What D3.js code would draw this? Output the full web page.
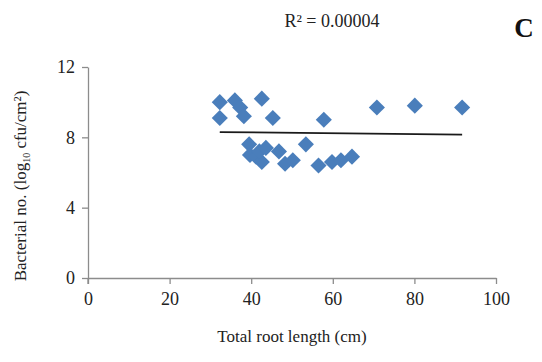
<!DOCTYPE html>
<html>
<head>
<meta charset="utf-8">
<script src="https://cdn.jsdelivr.net/npm/d3@7"></script>
<style>
  body { margin: 0; background: #fff; }
  svg text { font-family: "Liberation Serif", "DejaVu Serif", serif; fill: #222; }
</style>
</head>
<body>
<div id="chart-area"></div>
<script>
// values
var rootLength = [32.3, 32.3, 36.0, 37.3, 38.2, 42.6, 45.3,
                  39.5, 39.7, 41.2, 42.6, 42.0, 43.6, 46.8, 48.3, 50.2,
                  53.4, 57.8, 56.5, 59.8, 62.0, 64.7, 70.8, 80.1, 91.7];
var bacteria   = [10.0, 9.1, 10.1, 9.7, 9.2, 10.2, 9.1,
                  7.6, 7.0, 6.9, 6.6, 7.2, 7.4, 7.2, 6.5, 6.7,
                  7.6, 9.0, 6.4, 6.6, 6.7, 6.9, 9.7, 9.8, 9.7];
var trendX = [32.3, 91.7];
var trendY = [8.3, 8.15];
var xTicks = [0, 20, 40, 60, 80, 100];
var yTicks = [0, 4, 8, 12];

var width = 542, height = 362;
var margin = {top: 67, right: 46, bottom: 84, left: 88};
var plotW = width - margin.left - margin.right;
var plotH = height - margin.top - margin.bottom;

var svg = d3.select("#chart-area").append("svg")
    .attr("width", width).attr("height", height);

var g = svg.append("g").attr("transform", "translate(" + margin.left + "," + margin.top + ")");

var x = d3.scaleLinear().domain([0, 100]).range([0, plotW]);
var y = d3.scaleLinear().domain([0, 12]).range([plotH, 0]);

var xAxis = d3.axisBottom(x).tickValues(xTicks).tickSize(6).tickSizeOuter(0);
var gx = g.append("g").attr("transform", "translate(0," + plotH + ")").call(xAxis);
gx.selectAll("text").attr("y", 14).style("font-size", "18px");

var yAxis = d3.axisLeft(y).tickValues(yTicks).tickSize(6).tickSizeOuter(0);
var gy = g.append("g").call(yAxis);
gy.selectAll("text").attr("x", -13).style("font-size", "18px");

svg.selectAll("g").attr("font-family", null);
svg.selectAll(".domain, .tick line").attr("stroke", "#8c8c8c").attr("stroke-width", 1.3);
svg.selectAll(".tick text").attr("fill", "#222");

// small tick crossing at origin
g.append("line").attr("x1", 0).attr("x2", 0).attr("y1", plotH).attr("y2", plotH + 6)
    .attr("stroke", "#8c8c8c").attr("stroke-width", 1.3);

var pts = rootLength.map(function(d, i) { return {x: d, y: bacteria[i]}; });
g.selectAll("path.pt").data(pts).enter().append("path")
    .attr("class", "pt")
    .attr("d", d3.symbol().type(d3.symbolSquare).size(130))
    .attr("transform", function(d) { return "translate(" + x(d.x) + "," + y(d.y) + ") rotate(45)"; })
    .attr("fill", "#4a7ebb");

g.append("line")
    .attr("x1", x(trendX[0])).attr("y1", y(trendY[0]))
    .attr("x2", x(trendX[1])).attr("y2", y(trendY[1]))
    .attr("stroke", "#1a1a1a").attr("stroke-width", 1.8);

svg.append("text").attr("x", 292).attr("y", 342).attr("text-anchor", "middle")
    .style("font-size", "17px").text("Total root length (cm)");

var yl = svg.append("text").attr("transform", "translate(26,186) rotate(-90)")
    .attr("text-anchor", "middle").style("font-size", "17px");
yl.append("tspan").text("Bacterial no. (log");
yl.append("tspan").attr("dy", 4).style("font-size", "10px").text("10");
yl.append("tspan").attr("dy", -4).text(" cfu/cm²)");

svg.append("text").attr("x", 332).attr("y", 27).attr("text-anchor", "middle")
    .style("font-size", "18px").text("R² = 0.00004");

svg.append("text").attr("x", 524).attr("y", 37).attr("text-anchor", "middle")
    .style("font-size", "27px").style("font-weight", "bold").style("fill", "#111").text("C");
</script>
</body>
</html>
